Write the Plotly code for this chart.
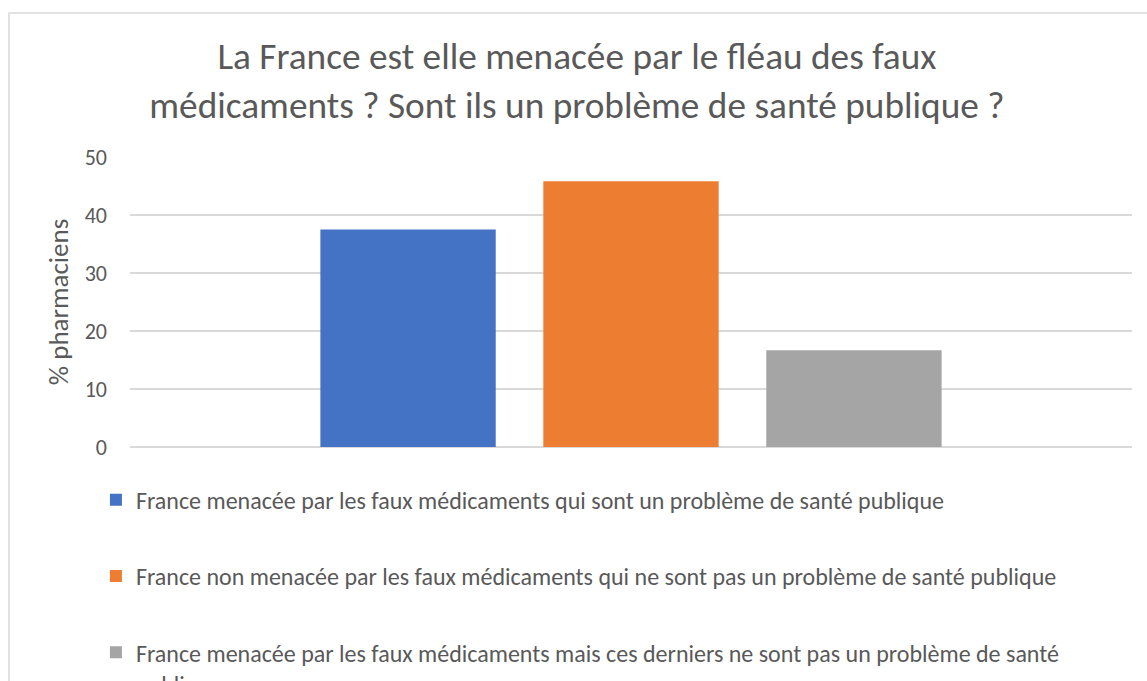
import plotly.graph_objects as go

categories = ["Pharmaciens"]
series_names = [
    "France menacée par les faux médicaments qui sont un problème de santé publique",
    "France non menacée par les faux médicaments qui ne sont pas un problème de santé publique",
    "France menacée par les faux médicaments mais ces derniers ne sont pas un problème de santé<br>publique",
]
series_values = [37.5, 45.8, 16.7]
series_colors = ["#4472C4", "#ED7D31", "#A5A5A5"]
y_ticks = [0, 10, 20, 30, 40, 50]

title_text = ("La France est elle menacée par le fléau des faux<br>"
              "médicaments ? Sont ils un problème de santé publique ?")

FONT = "Carlito, Calibri, Lato, sans-serif"

fig = go.Figure()
for i, (name, val, col) in enumerate(zip(series_names, series_values, series_colors)):
    fig.add_trace(go.Bar(
        x=categories, y=[val], name=name, marker_color=col,
        marker_line_width=0, legendgroup=f"g{i}",
    ))

fig.update_layout(
    width=1147, height=681,
    margin=dict(l=130, r=15, t=157, b=234, autoexpand=False),
    paper_bgcolor="white", plot_bgcolor="white",
    barmode="group", bargap=0.3325, bargroupgap=0.2135,
    font=dict(family=FONT, color="#595959"),
    title=dict(text=title_text, x=0.503, xref="container", xanchor="center",
               y=0.898, yref="container", yanchor="top",
               font=dict(family=FONT, size=37.3, color="#595959")),
    showlegend=True,
    legend=dict(orientation="v", x=-0.034, xanchor="left", y=-0.106, yanchor="top",
                font=dict(family=FONT, size=24, color="#595959"),
                tracegroupgap=42, valign="top", bgcolor="rgba(0,0,0,0)"),
    xaxis=dict(showticklabels=False, showgrid=False, zeroline=False, showline=False,
               ticks=""),
    yaxis=dict(range=[0, 50], tickvals=y_ticks, showgrid=True, gridcolor="#D9D9D9",
               gridwidth=1.5, zeroline=True, zerolinecolor="#D9D9D9", zerolinewidth=1.5,
               showline=False, ticks="", ticklabelstandoff=22,
               tickfont=dict(family=FONT, size=22, color="#595959"),
               title=dict(text="% pharmaciens", standoff=8,
                          font=dict(family=FONT, size=27, color="#595959"))),
    shapes=[dict(type="rect", xref="paper", yref="paper",
                 x0=-0.1208, x1=1.2, y0=-1.5, y1=1.4966,
                 line=dict(color="#D9D9D9", width=1.5), fillcolor="rgba(0,0,0,0)",
                 layer="below")],
)

fig.write_html("out.html", config={"displayModeBar": False},
               post_script="document.body.style.margin='0';")
